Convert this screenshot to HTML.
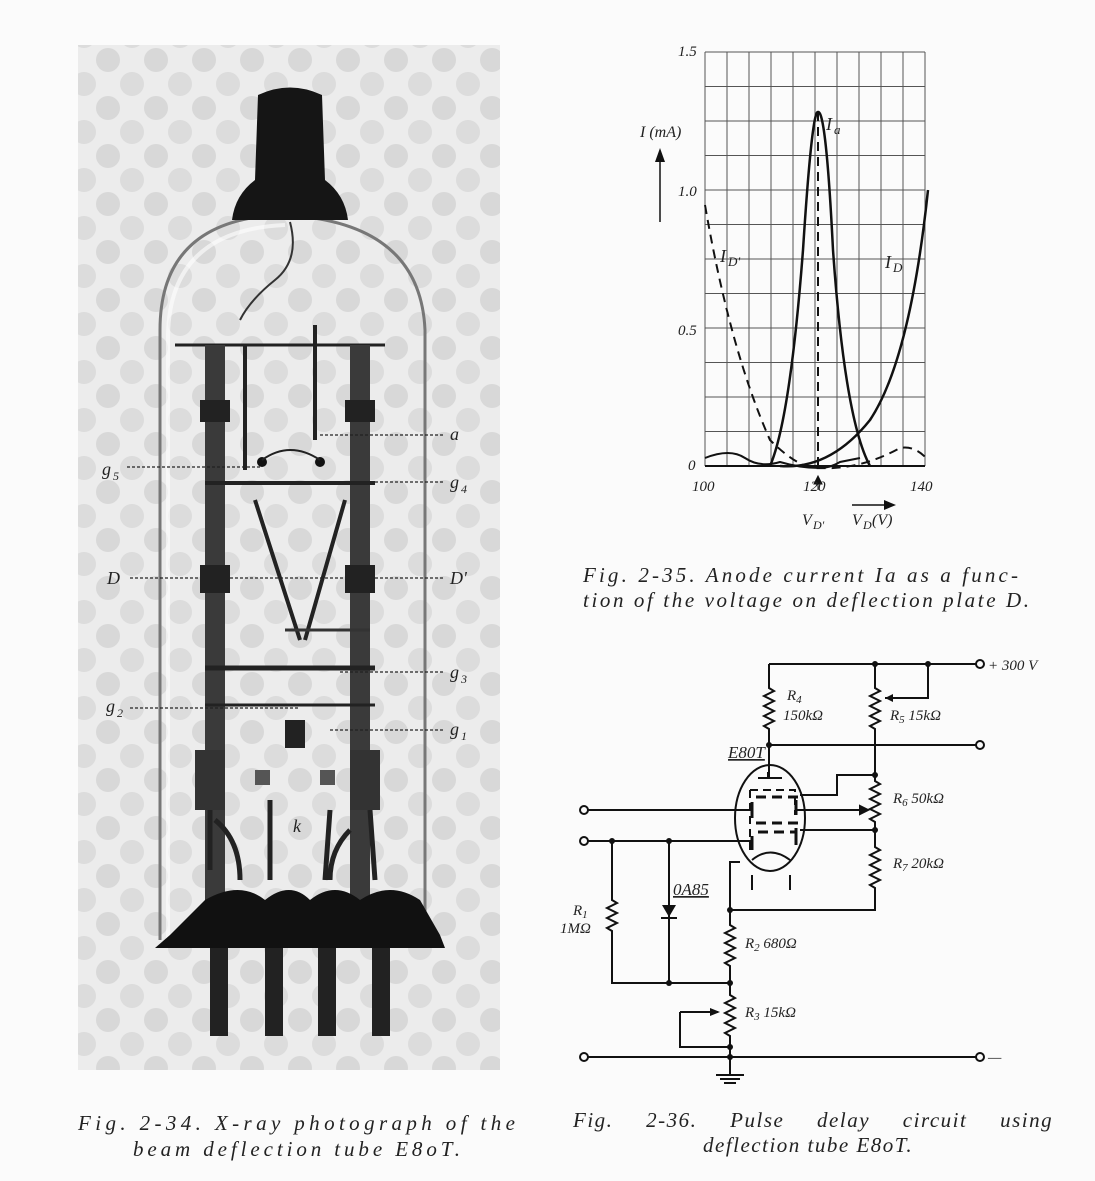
<!DOCTYPE html>
<html><head><meta charset="utf-8"><style>
body{margin:0;background:#fff;}
svg{display:block}
text{font-family:"Liberation Serif",serif;font-style:italic;fill:#222}
.s{font-family:"Liberation Sans",sans-serif;font-style:italic}
</style></head><body>
<svg width="1095" height="1181" viewBox="0 0 1095 1181" xmlns="http://www.w3.org/2000/svg">
<defs>
<pattern id="dots" width="48" height="48" patternUnits="userSpaceOnUse">
<rect width="48" height="48" fill="#ececec"/>
<circle cx="12" cy="12" r="12" fill="#d8d8d8"/>
<circle cx="36" cy="36" r="12" fill="#dcdcdc"/>
</pattern>
</defs>
<rect width="1095" height="1181" fill="#fbfbfb"/>
<rect x="78" y="45" width="422" height="1025" fill="url(#dots)"/>
<path d="M160 940 L160 330 Q160 220 280 215 Q420 220 425 330 L425 940" fill="none" stroke="#777" stroke-width="3"/>
<path d="M168 940 L168 335 Q170 230 285 225" fill="none" stroke="#fff" stroke-width="4" opacity=".6"/>
<path d="M258 95 Q290 80 322 95 L325 180 Q345 195 348 220 L232 220 Q235 195 255 180 Z" fill="#151515"/>
<path d="M290 222 Q300 260 275 280 Q250 300 240 320" fill="none" stroke="#333" stroke-width="2"/>
<line x1="175" y1="345" x2="385" y2="345" stroke="#222" stroke-width="3"/>
<rect x="205" y="345" width="20" height="560" fill="#3a3a3a"/>
<rect x="350" y="345" width="20" height="560" fill="#3a3a3a"/>
<rect x="200" y="400" width="30" height="22" fill="#222"/>
<rect x="345" y="400" width="30" height="22" fill="#222"/>
<rect x="200" y="565" width="30" height="28" fill="#222"/>
<rect x="345" y="565" width="30" height="28" fill="#222"/>
<line x1="205" y1="483" x2="375" y2="483" stroke="#222" stroke-width="4"/>
<line x1="205" y1="668" x2="375" y2="668" stroke="#222" stroke-width="5"/>
<line x1="205" y1="705" x2="375" y2="705" stroke="#222" stroke-width="3"/>
<path d="M245 345 L245 470 M315 325 L315 440 M255 500 L300 640 M345 500 L305 640" stroke="#222" stroke-width="4" fill="none"/>
<path d="M285 630 L370 630" stroke="#333" stroke-width="3" fill="none"/>
<circle cx="262" cy="462" r="5" fill="#111"/><circle cx="320" cy="462" r="5" fill="#111"/>
<path d="M262 460 Q290 440 320 460" fill="none" stroke="#222" stroke-width="2"/>
<rect x="285" y="720" width="20" height="28" fill="#222"/>
<rect x="255" y="770" width="15" height="15" fill="#555"/><rect x="320" y="770" width="15" height="15" fill="#555"/>
<rect x="195" y="750" width="30" height="60" fill="#333"/><rect x="350" y="750" width="30" height="60" fill="#333"/>
<path d="M210 810 L210 870 M270 800 L270 880 M330 810 L325 880 M370 810 L375 880 M215 820 Q240 840 240 880 M350 830 Q330 850 330 880" stroke="#222" stroke-width="5" fill="none"/>
<path d="M155 948 L445 948 L440 935 L420 900 Q390 880 360 900 Q335 880 310 900 Q290 880 265 900 Q240 880 205 900 L170 935 Z" fill="#111"/>
<rect x="210" y="948" width="18" height="88" fill="#222"/>
<rect x="265" y="948" width="18" height="88" fill="#222"/>
<rect x="318" y="948" width="18" height="88" fill="#222"/>
<rect x="372" y="948" width="18" height="88" fill="#222"/>
<g stroke="#222" stroke-width="1.2" stroke-dasharray="3 2">
<line x1="320" y1="435" x2="445" y2="435"/>
<line x1="127" y1="467" x2="260" y2="467"/>
<line x1="230" y1="482" x2="445" y2="482"/>
<line x1="130" y1="578" x2="445" y2="578"/>
<line x1="340" y1="672" x2="445" y2="672"/>
<line x1="130" y1="708" x2="300" y2="708"/>
<line x1="330" y1="730" x2="445" y2="730"/>
</g>
<g font-size="18" class="s">
<text x="450" y="440">a</text><text x="102" y="475">g</text><text x="113" y="480" font-size="12">5</text>
<text x="450" y="488">g</text><text x="461" y="493" font-size="12">4</text>
<text x="107" y="584">D</text><text x="450" y="584">D'</text>
<text x="450" y="678">g</text><text x="461" y="683" font-size="12">3</text>
<text x="106" y="712">g</text><text x="117" y="717" font-size="12">2</text>
<text x="450" y="735">g</text><text x="461" y="740" font-size="12">1</text>
<text x="293" y="832">k</text>
</g>
<text x="78" y="1130" font-size="21" textLength="437" lengthAdjust="spacing">Fig. 2-34.  X-ray photograph of the</text>
<text x="133" y="1156" font-size="21" textLength="327" lengthAdjust="spacing">beam deflection tube E8oT.</text>

<g stroke="#555" stroke-width="1">
<path d="M705 52 V466 M727 52 V466 M749 52 V466 M771 52 V466 M793 52 V466 M815 52 V466 M837 52 V466 M859 52 V466 M881 52 V466 M903 52 V466 M925 52 V466"/>
<path d="M705 52 H925 M705 86.5 H925 M705 121 H925 M705 155.5 H925 M705 190 H925 M705 224.5 H925 M705 259 H925 M705 293.5 H925 M705 328 H925 M705 362.5 H925 M705 397 H925 M705 431.5 H925"/>
</g>
<line x1="705" y1="466" x2="925" y2="466" stroke="#111" stroke-width="2"/>
<path d="M705 458 Q730 448 745 458 Q760 468 780 462 Q800 468 820 468 Q830 468 840 462 L 860 458" fill="none" stroke="#111" stroke-width="2"/>
<path d="M770 466 Q790 420 803 250 Q812 110 818 112 Q826 110 833 250 Q845 420 870 466" fill="none" stroke="#111" stroke-width="2.5"/>
<path d="M780 466 Q830 470 870 420 Q910 360 928 190" fill="none" stroke="#111" stroke-width="2.5"/>
<path d="M705 205 Q730 350 770 440 Q800 470 820 468 Q860 470 900 448 Q915 445 928 460" fill="none" stroke="#111" stroke-width="2" stroke-dasharray="9 6"/>
<line x1="818" y1="112" x2="818" y2="466" stroke="#111" stroke-width="2" stroke-dasharray="9 6"/>
<line x1="660" y1="222" x2="660" y2="152" stroke="#111" stroke-width="1.5"/>
<path d="M655 162 L660 148 L665 162 Z" fill="#111"/>
<line x1="852" y1="505" x2="892" y2="505" stroke="#111" stroke-width="1.5"/>
<path d="M884 500 L896 505 L884 510 Z" fill="#111"/>
<path d="M818 490 V478 M814 484 L818 476 L822 484Z" stroke="#111" fill="#111"/>
<g class="s" font-size="15">
<text x="678" y="56">1.5</text><text x="678" y="196">1.0</text><text x="678" y="335">0.5</text><text x="688" y="470">0</text>
<text x="692" y="491">100</text><text x="803" y="491">120</text><text x="910" y="491">140</text>
<text x="640" y="137" font-size="16">I (mA)</text>
<text x="826" y="130" font-size="18">I</text><text x="834" y="134" font-size="13">a</text>
<text x="720" y="262" font-size="18">I</text><text x="728" y="266" font-size="13">D'</text>
<text x="885" y="268" font-size="18">I</text><text x="893" y="272" font-size="13">D</text>
<text x="802" y="525" font-size="16">V</text><text x="813" y="529" font-size="12">D'</text>
<text x="852" y="525" font-size="16">V</text><text x="863" y="529" font-size="12">D</text><text x="872" y="525" font-size="16">(V)</text>
</g>
<text x="583" y="582" font-size="21" textLength="435" lengthAdjust="spacing">Fig. 2-35.  Anode current Ia as a func-</text>
<text x="583" y="607" font-size="21" textLength="446" lengthAdjust="spacing">tion of the voltage on deflection plate D.</text>

<g stroke="#111" stroke-width="2" fill="none">
<path d="M769 664 H976"/><circle cx="980" cy="664" r="4"/>
<path d="M769 664 V688 l5 3 -10 5 10 5 -10 5 10 5 -10 5 10 5 -10 5 5 3 V745"/>
<path d="M875 664 V688 l5 3 -10 5 10 5 -10 5 10 5 -10 5 10 5 -10 5 5 3 V775"/>
<path d="M928 664 V698 H885"/>
<path d="M769 745 H976"/><circle cx="980" cy="745" r="4"/>
<path d="M769 745 V777"/>
<ellipse cx="770" cy="818" rx="35" ry="53"/>
<path d="M752 860 Q770 845 790 860"/>
<path d="M758 778 H782 M768 778 V772"/>
<path d="M750 790 V852 M750 790 H795 V815" stroke-dasharray="8 5"/>
<path d="M756 797 H800 M756 823 H800 M758 832 H795" stroke-dasharray="10 6" stroke-width="3"/>
<path d="M752 802 V818 M752 836 V850 M796 800 V815 M796 828 V845" stroke-width="3"/>
<path d="M588 810 H752"/><circle cx="584" cy="810" r="4"/>
<path d="M588 841 H752"/><circle cx="584" cy="841" r="4"/>
<path d="M800 795 H837 V775 H875"/>
<path d="M796 810 H862"/><path d="M860 806 L868 810 860 814Z" fill="#111"/>
<path d="M875 775 V781 l5 3 -10 5 10 5 -10 5 10 5 -10 5 10 5 -10 5 5 3 V830"/>
<path d="M800 830 H875 V847 l5 3 -10 5 10 5 -10 5 10 5 -10 5 10 5 -10 5 5 3 V910 H730"/>
<path d="M740 862 H730 V925 l5 3 -10 5 10 5 -10 5 10 5 -10 5 10 5 -10 5 5 3 V995 l5 3 -10 5 10 5 -10 5 10 5 -10 5 10 5 -10 5 5 3 V1075"/>
<path d="M752 875 V890 M790 875 V890"/>
<path d="M612 841 V900 l5 3 -10 5 10 5 -10 5 10 5 -10 5 5 3 V983 H730"/>
<path d="M669 841 V983"/>
<path d="M680 1012 H718 M680 1012 V1047 H730"/>
<path d="M588 1057 H976"/><circle cx="584" cy="1057" r="4"/><circle cx="980" cy="1057" r="4"/>
<path d="M716 1075 H744 M720 1079 H740 M724 1083 H736"/>
</g>
<path d="M662 905 L676 905 669 917Z" fill="#111"/><line x1="661" y1="918" x2="677" y2="918" stroke="#111" stroke-width="2"/>
<path d="M710 1008 L720 1012 710 1016Z" fill="#111"/>
<path d="M893 694 L885 698 893 702Z" fill="#111"/>
<g fill="#111"><circle cx="875" cy="664" r="3"/><circle cx="928" cy="664" r="3"/><circle cx="769" cy="745" r="3"/><circle cx="875" cy="775" r="3"/><circle cx="875" cy="830" r="3"/><circle cx="612" cy="841" r="3"/><circle cx="669" cy="841" r="3"/><circle cx="730" cy="910" r="3"/><circle cx="730" cy="983" r="3"/><circle cx="669" cy="983" r="3"/><circle cx="730" cy="1047" r="3"/><circle cx="730" cy="1057" r="3"/></g>
<g class="s" font-size="15">
<text x="988" y="670">+ 300 V</text><text x="988" y="1062">—</text>
<text x="787" y="700">R<tspan font-size="11" dy="3">4</tspan></text><text x="783" y="720">150kΩ</text>
<text x="890" y="720">R<tspan font-size="11" dy="3">5</tspan><tspan dy="-3"> 15kΩ</tspan></text>
<text x="728" y="758" font-size="17" text-decoration="underline">E80T</text>
<text x="893" y="803">R<tspan font-size="11" dy="3">6</tspan><tspan dy="-3"> 50kΩ</tspan></text>
<text x="893" y="868">R<tspan font-size="11" dy="3">7</tspan><tspan dy="-3"> 20kΩ</tspan></text>
<text x="673" y="895" font-size="17" text-decoration="underline">0A85</text>
<text x="573" y="915">R<tspan font-size="11" dy="3">1</tspan></text><text x="560" y="933">1MΩ</text>
<text x="745" y="948">R<tspan font-size="11" dy="3">2</tspan><tspan dy="-3"> 680Ω</tspan></text>
<text x="745" y="1017">R<tspan font-size="11" dy="3">3</tspan><tspan dy="-3"> 15kΩ</tspan></text>
</g>
<text x="573" y="1127" font-size="21" word-spacing="26" letter-spacing="1.5">Fig. 2-36.  Pulse delay circuit using</text>
<text x="703" y="1152" font-size="21" letter-spacing="1.5">deflection tube E8oT.</text>
</svg>
</body></html>
